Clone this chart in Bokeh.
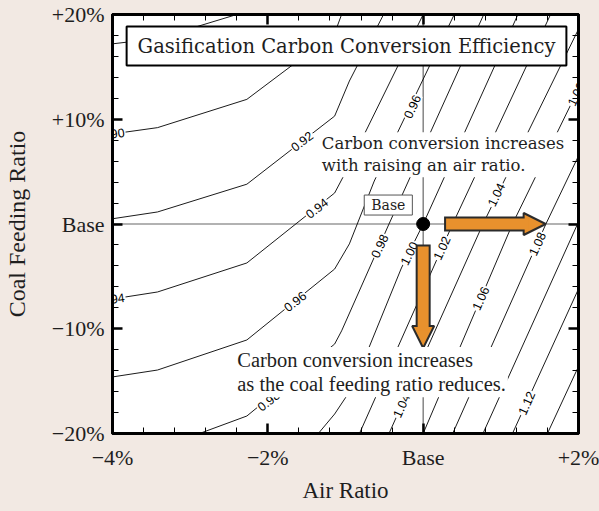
from bokeh.plotting import figure
from bokeh.models import (ColumnDataSource, FixedTicker, LinearAxis, Span, Label,
                          Arrow, NormalHead, Range1d, CustomLabelingPolicy)
from bokeh.core.properties import value
from bokeh.embed import file_html
from bokeh.resources import INLINE

# ---------------- data ----------------
air_ticks = [-4, -2, 0, 2]
air_tick_labels = ["\u22124%", "\u22122%", "Base", "+2%"]
air_minor = [-3.6, -3.2, -2.8, -2.4, -1.6, -1.2, -0.8, -0.4, 0.4, 0.8, 1.2, 1.6]
coal_ticks = [-20, -10, 0, 10, 20]
coal_tick_labels = ["\u221220%", "\u221210%", "Base", "+10%", "+20%"]
coal_minor = [-18, -16, -14, -12, -8, -6, -4, -2, 2, 4, 6, 8, 12, 14, 16, 18]

# contour polylines: air ratio (%) vs coal feeding ratio (%)
levels = ["0.88", "0.90", "0.92", "0.94", "0.96", "0.98", "1.00",
          "1.02", "1.04", "1.06", "1.08", "1.10", "1.12", "1.14"]
c088_x = [-4.0, -3.42, -2.40]
c088_y = [17.2, 17.7, 20.0]
c090_x = [-4.0, -3.42, -2.27, -1.14, -1.05]
c090_y = [8.6, 9.2, 11.9, 18.2, 20.0]
c092_x = [-4.0, -3.42, -2.27, -1.14, -0.95, -0.51]
c092_y = [0.5, 1.15, 3.8, 10.3, 13.65, 20.0]
c094_x = [-4.0, -3.42, -2.27, -1.14, -0.99, 0.0]
c094_y = [-7.16, -6.49, -3.72, 2.96, 5.06, 20.0]
c096_x = [-4.0, -3.42, -2.27, -1.14, -0.95, -0.63, 0.40]
c096_y = [-14.6, -13.94, -11.07, -4.3, -1.9, 4.1, 20.0]
c098_x = [-2.88, -2.27, -1.14, -1.05, -0.44, 0.78]
c098_y = [-20.0, -18.33, -11.46, -10.2, 0.0, 20.0]
c100_x = [-1.35, -1.14, -0.90, -0.28, 0.0, 1.22]
c100_y = [-20.0, -18.14, -15.47, -4.2, 0.0, 20.0]
c102_x = [-0.82, 0.38, 1.64]
c102_y = [-20.0, 0.0, 20.0]
c104_x = [-0.44, 0.77, 2.0]
c104_y = [-20.0, 0.0, 18.6]
c106_x = [0.0, 1.15, 2.0]
c106_y = [-20.0, 0.0, 12.9]
c108_x = [0.38, 1.58, 2.0]
c108_y = [-20.0, 0.0, 6.5]
c110_x = [0.77, 2.0]
c110_y = [-20.0, 0.2]
c112_x = [1.15, 2.0]
c112_y = [-20.0, -6.2]
c114_x = [1.60, 2.0]
c114_y = [-20.0, -13.6]

contour_xs = [c088_x, c090_x, c092_x, c094_x, c096_x, c098_x, c100_x,
              c102_x, c104_x, c106_x, c108_x, c110_x, c112_x, c114_x]
contour_ys = [c088_y, c090_y, c092_y, c094_y, c096_y, c098_y, c100_y,
              c102_y, c104_y, c106_y, c108_y, c110_y, c112_y, c114_y]

# contour labels
label_text = ["0.90", "0.92", "0.94", "0.94", "0.96", "0.96", "0.98", "0.98",
              "1.00", "1.02", "1.04", "1.04", "1.06", "1.06", "1.08", "1.12"]
label_x = [-4.0, -1.56, -1.37, -4.0, -1.65, -0.14, -0.56, -1.99,
           -0.18, 0.24, 0.94, -0.28, 0.74, 1.97, 1.47, 1.33]
label_y = [8.6, 7.9, 1.5, -7.16, -7.4, 11.2, -2.1, -16.9,
           -2.8, -2.3, 2.8, -17.35, -7.1, 12.4, -1.9, -17.1]
label_angle = [7.6, 37.7, 38.0, 8.0, 38.0, 65.0, 65.0, 38.0,
               63.0, 65.0, 64.0, 66.0, 66.0, 64.0, 65.0, 66.0]

base_x = [0.0]
base_y = [0.0]

# ---------------- styles ----------------
BG = "#F2E9E3"
ORANGE = "#E8912D"
DARK = "#2B2B2B"
SERIF = "Liberation Serif"
CSERIF = "DejaVu Serif"

p = figure(width=599, height=511, x_range=Range1d(-4, 2), y_range=Range1d(-20, 20),
           output_backend="svg", toolbar_location=None,
           min_border_left=110, min_border_right=21, min_border_top=14,
           min_border_bottom=78, background_fill_color="white",
           border_fill_color=BG)
p.grid.visible = False
p.outline_line_color = "black"
p.outline_line_width = 3

xt = FixedTicker(ticks=air_ticks, minor_ticks=air_minor)
yt = FixedTicker(ticks=coal_ticks, minor_ticks=coal_minor)


def style_axis(ax, show):
    ax.axis_line_color = "black"
    ax.axis_line_width = 3
    ax.major_tick_in = 10
    ax.major_tick_out = 0
    ax.major_tick_line_width = 2.5
    ax.major_tick_line_color = "black"
    ax.minor_tick_in = 6
    ax.minor_tick_out = 0
    ax.minor_tick_line_width = 1
    ax.minor_tick_line_color = "black"
    if show:
        ax.major_label_text_font = SERIF
        ax.major_label_text_font_size = "22px"
        ax.major_label_text_color = "#1E1E1E"
        ax.axis_label_text_font = SERIF
        ax.axis_label_text_font_style = "normal"
        ax.axis_label_text_color = "#1E1E1E"
    else:
        ax.major_label_text_font_size = "1px"
        ax.major_label_text_color = BG
        ax.major_label_standoff = 0
        ax.major_label_policy = CustomLabelingPolicy(
            code="for (const i of indices) indices.unset(i)\nreturn indices")
        ax.axis_label = None


xa = p.xaxis[0]
xa.ticker = xt
xa.major_label_overrides = dict(zip(air_ticks, air_tick_labels))
xa.axis_label = "Air Ratio"
style_axis(xa, True)
xa.axis_label_text_font_size = "23px"
xa.major_label_standoff = 11
xa.axis_label_standoff = 5

ya = p.yaxis[0]
ya.ticker = yt
ya.major_label_overrides = dict(zip(coal_ticks, coal_tick_labels))
ya.axis_label = "Coal Feeding Ratio"
style_axis(ya, True)
ya.axis_label_text_font_size = "24px"
ya.major_label_standoff = 8
ya.axis_label_standoff = 19

top = LinearAxis(ticker=xt)
style_axis(top, False)
p.add_layout(top, "above")
right = LinearAxis(ticker=yt)
style_axis(right, False)
p.add_layout(right, "right")

# base reference lines
p.add_layout(Span(location=0, dimension="width", line_color="#666666",
                  line_width=1.2, level="underlay"))
p.add_layout(Span(location=0, dimension="height", line_color="#666666",
                  line_width=1.2, level="underlay"))

# contours
csrc = ColumnDataSource(dict(xs=contour_xs, ys=contour_ys, level=levels))
p.multi_line(xs="xs", ys="ys", source=csrc, line_color="black", line_width=0.9)

lsrc = ColumnDataSource(dict(x=label_x, y=label_y, text=label_text, angle=label_angle))
p.text(x="x", y="y", text="text", angle="angle", angle_units="deg", source=lsrc,
       text_font=value("Liberation Sans"), text_font_size="12.5px",
       text_align="center", text_baseline="middle", text_color="black",
       background_fill_color="white", padding=1)

# base point
p.scatter(base_x, base_y, size=13, color="black")

# arrows (horizontal)
p.add_layout(Arrow(end=None, x_start=0.269, y_start=0, x_end=1.33, y_end=0,
                   line_color=DARK, line_width=15))
p.add_layout(Arrow(end=NormalHead(size=22, fill_color=ORANGE, line_color=DARK, line_width=2),
                   x_start=1.2, y_start=0, x_end=1.577, y_end=0, line_alpha=0))
p.add_layout(Arrow(end=None, x_start=0.295, y_start=0, x_end=1.36, y_end=0,
                   line_color=ORANGE, line_width=11))
# arrows (vertical)
p.add_layout(Arrow(end=None, x_start=0, y_start=-1.96, x_end=0, y_end=-9.95,
                   line_color=DARK, line_width=15))
p.add_layout(Arrow(end=NormalHead(size=22, fill_color=ORANGE, line_color=DARK, line_width=2),
                   x_start=0, y_start=-8.0, x_end=0, y_end=-11.84, line_alpha=0))
p.add_layout(Arrow(end=None, x_start=0, y_start=-2.15, x_end=0, y_end=-10.2,
                   line_color=ORANGE, line_width=11))

# title box
p.add_layout(Label(x=-0.987, y=16.99, text="Gasification Carbon Conversion Efficiency",
                   text_font=CSERIF, text_font_size="19.5px", text_color="#1E1E1E",
                   text_align="center", text_baseline="middle",
                   background_fill_color="white", border_line_color="black",
                   border_line_width=2, padding=dict(x=11, y=8)))

# annotation texts
p.add_layout(Label(x=-1.33, y=8.75, text="Carbon conversion increases\nwith raising an air ratio.",
                   text_font=CSERIF, text_font_size="16.5px", text_color="#1E1E1E",
                   text_align="left", text_baseline="top", text_line_height=1.15,
                   background_fill_color="white", padding=2))
p.add_layout(Label(x=-2.42, y=-11.74,
                   text="Carbon conversion increases\nas the coal feeding ratio reduces.",
                   text_font=SERIF, text_font_size="20.5px", text_color="#1E1E1E",
                   text_align="left", text_baseline="top", text_line_height=1.1,
                   background_fill_color="white", padding=2))
p.add_layout(Label(x=-0.449, y=1.81, text="Base",
                   text_font=CSERIF, text_font_size="14px", text_color="#1E1E1E",
                   text_align="center", text_baseline="middle",
                   background_fill_color="white", border_line_color="#555555",
                   border_line_width=1, padding=dict(x=7, y=2)))

html = file_html(p, INLINE, title="plot")
html = html.replace("<head>", "<head><style>html,body{background:#F2E9E3;}</style>", 1)
open("out.html", "w").write(html)
